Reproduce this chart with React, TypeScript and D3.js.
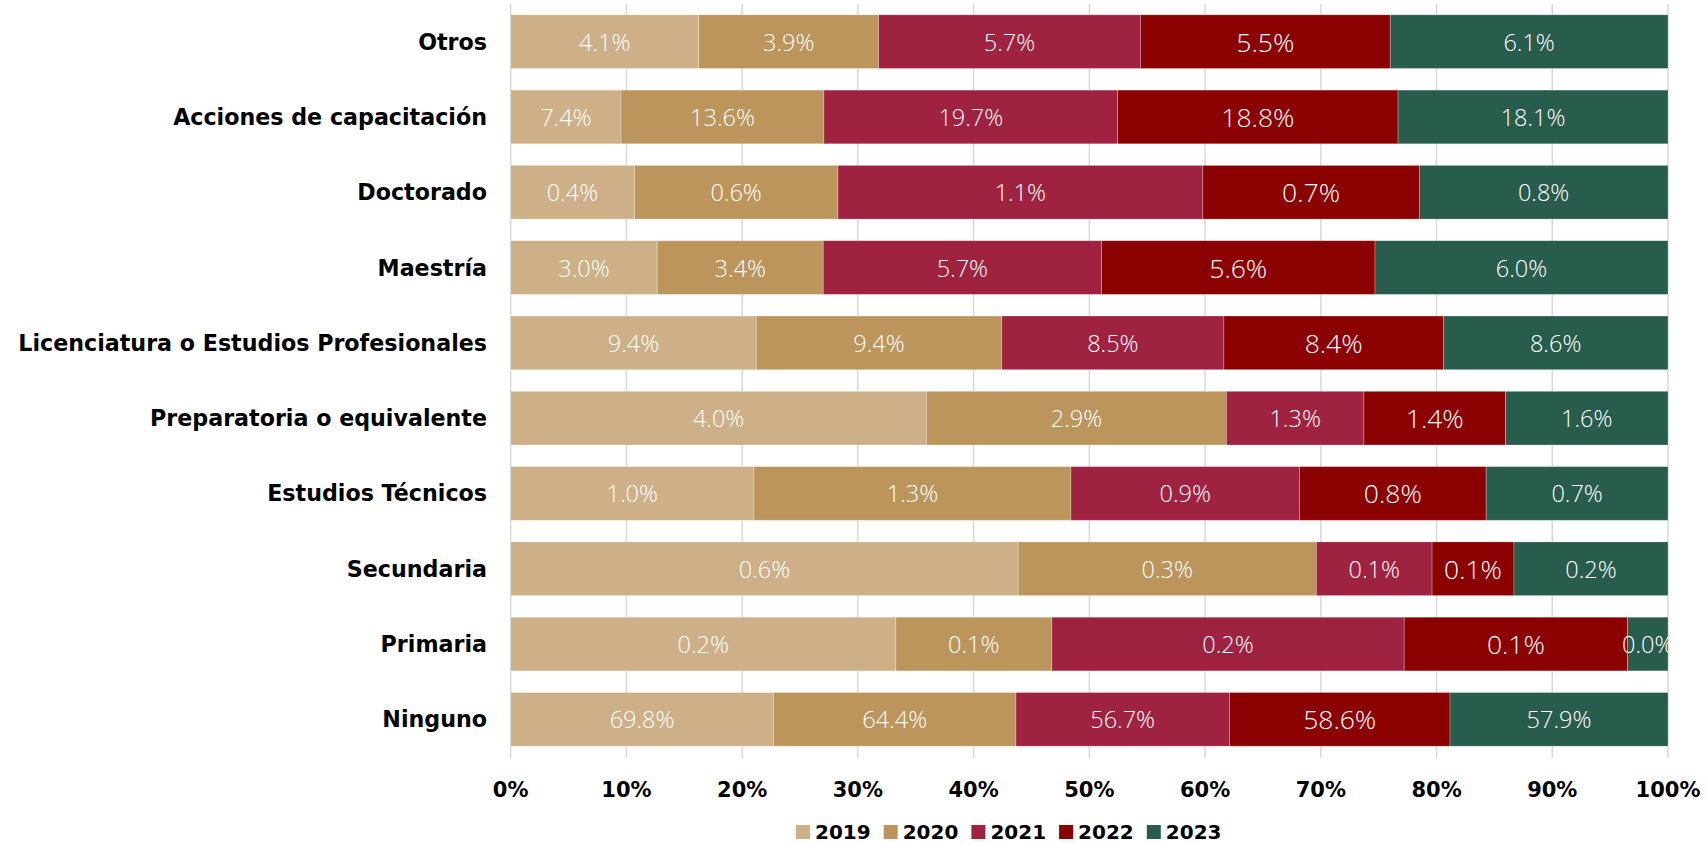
import React from "react";
import * as d3 from "d3";

const categories = [
  "Otros",
  "Acciones de capacitación",
  "Doctorado",
  "Maestría",
  "Licenciatura o Estudios Profesionales",
  "Preparatoria o equivalente",
  "Estudios Técnicos",
  "Secundaria",
  "Primaria",
  "Ninguno",
];
const years = ["2019", "2020", "2021", "2022", "2023"];
const v2019 = [4.11, 7.4, 0.383, 3.0, 9.4, 4.02, 0.99, 0.57, 0.2, 69.8];
const v2020 = [3.93, 13.6, 0.63, 3.4, 9.4, 2.9, 1.29, 0.335, 0.081, 64.4];
const v2021 = [5.72, 19.7, 1.13, 5.7, 8.5, 1.33, 0.93, 0.13, 0.183, 56.7];
const v2022 = [5.46, 18.8, 0.67, 5.6, 8.4, 1.37, 0.76, 0.092, 0.116, 58.6];
const v2023 = [6.07, 18.1, 0.77, 6.0, 8.6, 1.57, 0.74, 0.173, 0.021, 57.9];
const seriesValues = [v2019, v2020, v2021, v2022, v2023];
const colors = ["#CDB087", "#BC955C", "#9F2241", "#8B0000", "#285C4D"];
const xTicks = [0, 0.1, 0.2, 0.3, 0.4, 0.5, 0.6, 0.7, 0.8, 0.9, 1.0];

const W = 1706;
const H = 844;
const X0 = 510.7;
const X1 = 1668;
const Y0 = 4;
const Y1 = 757;

export default function App() {
  const rows = categories.map((c, i) => {
    const r: any = { cat: c };
    years.forEach((y, k) => (r[y] = seriesValues[k][i]));
    return r;
  });
  const stack = d3.stack<any>().keys(years).offset(d3.stackOffsetExpand);
  const series = stack(rows);
  const x = d3.scaleLinear().domain([0, 1]).range([X0, X1]);
  const y = d3
    .scaleBand<string>()
    .domain(categories)
    .range([Y0, Y1])
    .paddingInner(0.287)
    .paddingOuter(0.1435);
  const bw = y.bandwidth();
  const boldFont = "'DejaVu Sans', sans-serif";
  const lightFont = "'Open Sans', sans-serif";

  return (
    <div style={{ position: "absolute", left: 0, top: 0 }}>
      <svg width={W} height={H} style={{ display: "block", background: "#fff" }}>
        <defs>
          <clipPath id="plotclip">
            <rect x={X0} y={0} width={X1 - X0} height={H} />
          </clipPath>
        </defs>
        {xTicks.map((t) => (
          <line
            key={"g" + t}
            x1={x(t)}
            x2={x(t)}
            y1={Y0}
            y2={Y1 + 1}
            stroke="#D9D9D9"
            strokeWidth={1.5}
          />
        ))}
        {series.map((s, k) => (
          <g key={years[k]} fill={colors[k]}>
            {s.map((d, i) => (
              <rect
                key={i}
                x={x(d[0])}
                y={y(categories[i])}
                width={x(d[1]) - x(d[0])}
                height={bw}
                stroke="#ffffff"
                strokeOpacity={0.35}
                strokeWidth={0.75}
              />
            ))}
          </g>
        ))}
        <g clipPath="url(#plotclip)">
          {series.map((s, k) => (
            <g key={"l" + years[k]}>
              {s.map((d, i) => (
                <text
                  key={i}
                  x={x((d[0] + d[1]) / 2)}
                  y={(y(categories[i]) as number) + bw / 2}
                  textAnchor="middle"
                  dominantBaseline="central"
                  fill="#ffffff"
                  fontFamily={lightFont}
                  fontWeight={300}
                  fontSize={k === 3 ? 26.5 : 23.5}
                >
                  {seriesValues[k][i].toFixed(1) + "%"}
                </text>
              ))}
            </g>
          ))}
        </g>
        {categories.map((c) => (
          <text
            key={c}
            x={487}
            y={(y(c) as number) + bw / 2}
            textAnchor="end"
            dominantBaseline="central"
            fontFamily={boldFont}
            fontWeight={700}
            fontSize={22.2}
            fill="#000"
          >
            {c}
          </text>
        ))}
        {xTicks.map((t) => (
          <text
            key={"t" + t}
            x={x(t)}
            y={790}
            textAnchor="middle"
            dominantBaseline="central"
            fontFamily={boldFont}
            fontWeight={700}
            fontSize={21}
            fill="#000"
          >
            {Math.round(t * 100) + "%"}
          </text>
        ))}
        {years.map((yr, k) => (
          <g key={"lg" + yr} transform={`translate(${796 + k * 87.7},832)`}>
            <rect x={0} y={-7} width={14} height={14} fill={colors[k]} />
            <text
              x={19}
              y={0}
              dominantBaseline="central"
              fontFamily={boldFont}
              fontWeight={700}
              fontSize={20}
              fill="#000"
            >
              {yr}
            </text>
          </g>
        ))}
      </svg>
    </div>
  );
}
